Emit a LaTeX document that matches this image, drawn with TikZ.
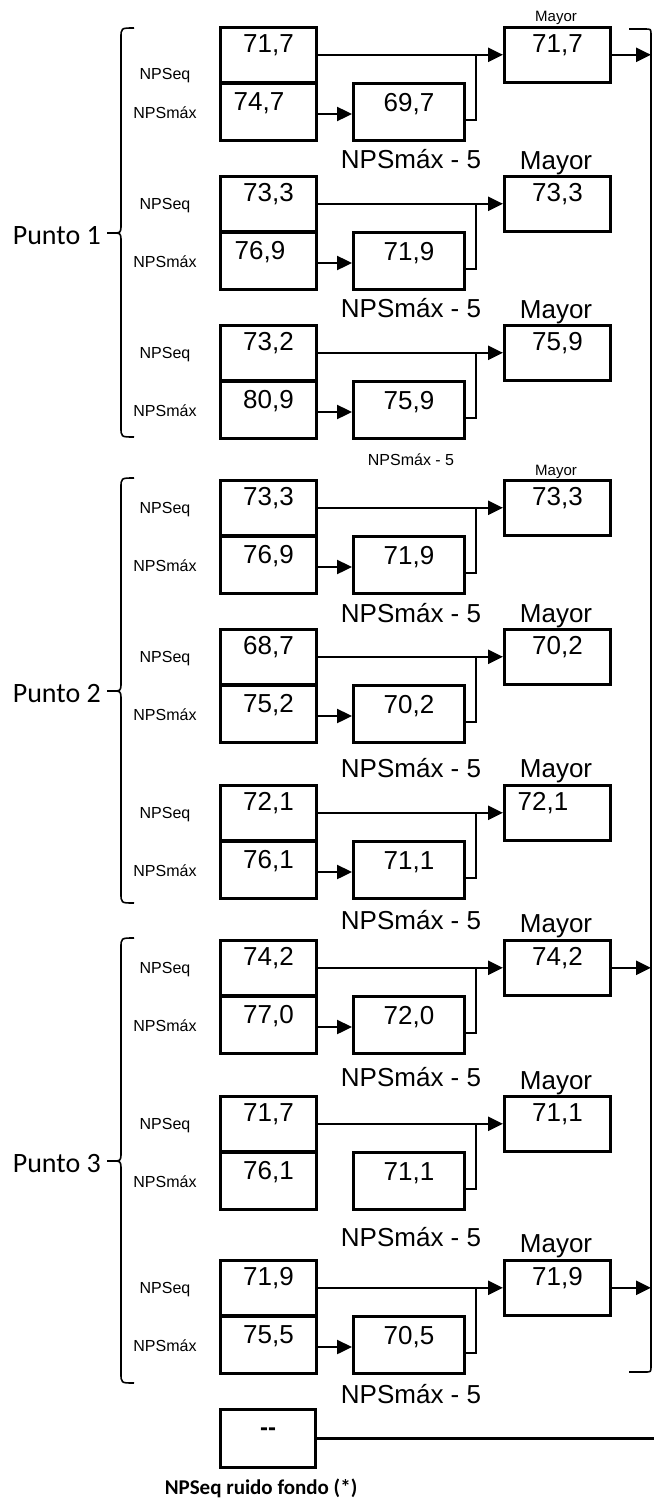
\documentclass[tikz,border=0pt]{standalone}
\usepackage{fontspec}
\setmainfont{Liberation Sans}
\newfontfamily\calibri{Carlito}
\usetikzlibrary{arrows.meta}
\tikzset{
  box/.style={draw, line width=3pt, inner sep=0pt, minimum width=96pt, minimum height=55.5pt},
  val/.style={inner sep=0pt, font=\fontsize{26}{30}\selectfont, text height=18.6pt, text depth=0pt},
  lbl/.style={inner sep=0pt, font=\fontsize{16}{19}\selectfont, text height=11.5pt, text depth=0pt},
  slbl/.style={inner sep=0pt, font=\fontsize{15}{18}\selectfont, text height=10.7pt, text depth=0pt},
  punto/.style={inner sep=0pt, anchor=east, font=\calibri\fontsize{28}{32}\selectfont, text height=18pt, text depth=0pt},
  arr/.style={line width=2.4pt, -{Triangle[length=15pt,width=14pt]}},
  plain/.style={line width=2.4pt},
  thinln/.style={line width=1.4pt},
  brk/.style={line width=1.6pt}
}
\begin{document}
\begin{tikzpicture}[x=1pt,y=-1pt]
\useasboundingbox (0,0) rectangle (654,1501);
\coordinate (rbt) at (651,29);
\coordinate (rbb) at (651,1372);
\foreach \n/\T/\a/\b/\bx/\c/\d/\dx/\eq in {
 1/26/{71,7}/{74,7}/259/{69,7}/{71,7}/557.5/48,
 2/175/{73,3}/{76,9}/260/{71,9}/{73,3}/557.5/29,
 3/324/{73,2}/{80,9}/268.5/{75,9}/{75,9}/557.5/29,
 4/479/{73,3}/{76,9}/268.5/{71,9}/{73,3}/557.5/29,
 5/628/{68,7}/{75,2}/268.5/{70,2}/{70,2}/557.5/29,
 6/784/{72,1}/{76,1}/268.5/{71,1}/{72,1}/543/29,
 7/939/{74,2}/{77,0}/268.5/{72,0}/{74,2}/557.5/29,
 8/1095/{71,7}/{76,1}/268.5/{71,1}/{71,1}/557.5/29,
 9/1259/{71,9}/{75,5}/268.5/{70,5}/{71,9}/557.5/29}{
  \node[box] (lt\n) at (268.5,\T+28.8) {};
  \node[box, minimum height=56.5pt] (lb\n) at (268.5,\T+86) {};
  \node[box, minimum width=111pt, minimum height=56.5pt] (m\n) at (409,\T+86) {};
  \node[box, minimum width=106pt] (r\n) at (557.5,\T+28.8) {};
  \node[val] (tlt\n) at (268.5,\T+17) {\a};
  \node[val] (tlb\n) at (\bx,\T+75) {\b};
  \node[val] (tm\n) at (409,\T+76) {\c};
  \node[val] (tr\n) at (\dx,\T+17) {\d};
  \node[lbl] (eq\n) at (165,\T+\eq) {NPSeq};
  \node[lbl] (mx\n) at (165,\T+87) {NPSmáx};
  \coordinate (j\n) at (476,\T+28.8);
  \draw[arr] (lt\n.east) -- (r\n.west);
  \ifnum\n=8\relax\else
    \draw[arr] ([yshift=-2pt]lb\n.east) -- ([yshift=-2pt]m\n.west);
  \fi
  \draw[thinln] ([yshift=-8pt]m\n.east) -| (j\n);
}
\draw[arr] (r1.east) -- (r1.east -| rbt);
\draw[arr] (r7.east) -- (r7.east -| rbt);
\draw[arr] (r9.east) -- (r9.east -| rbt);
% right bracket
\draw[brk] (629,29) -- (645,29) .. controls (651,29) .. (651,35) -- (651,1366) .. controls (651,1372) .. (645,1372) -- (629,1372);
% left braces
\foreach \g/\t/\b/\m in {1/28/437/233, 2/478/903/691, 3/938/1383/1161}{
  \draw[brk] (134,\t) .. controls (121,\t) .. (121,\t+10) -- (121,\m-6) .. controls (121,\m) and (119,\m) .. (114,\m) -- (107,\m);
  \draw[brk] (107,\m) -- (114,\m) .. controls (119,\m) and (121,\m) .. (121,\m+6) -- (121,\b-10) .. controls (121,\b) .. (134,\b);
  \node[punto] (p\g) at (101,\m+2) {Punto \g};
}
% labels between units
\foreach \i/\y in {1/159, 2/308, 4/613, 5/768, 6/920, 7/1077, 8/1237, 9/1394}{
  \node[val] (nm\i) at (411,\y) {NPSmáx - 5};
}
\foreach \i/\y in {1/160, 2/309, 4/613, 5/768, 6/923, 7/1080, 8/1243}{
  \node[val] (my\i) at (556,\y) {Mayor};
}
\node[slbl] (mys0) at (556,16) {Mayor};
\node[slbl] (mys3) at (556,470) {Mayor};
\node[lbl] (nms3) at (411,460) {NPSmáx - 5};
% background noise box
\node[box, minimum width=95.5pt, minimum height=58pt] (nb) at (268,1438.5) {};
\node[val, font=\bfseries\fontsize{24}{28}\selectfont, text height=10pt] (tnb) at (268,1430) {-{}-};
\coordinate (rend) at (654,1438);
\draw[plain] (nb.east) -- (nb.east -| rend);
\node[inner sep=0pt, font=\calibri\bfseries\fontsize{21}{25}\selectfont, text height=13.5pt, text depth=0pt] (nf) at (261,1488) {NPSeq ruido fondo (*)};
\end{tikzpicture}
\end{document}
